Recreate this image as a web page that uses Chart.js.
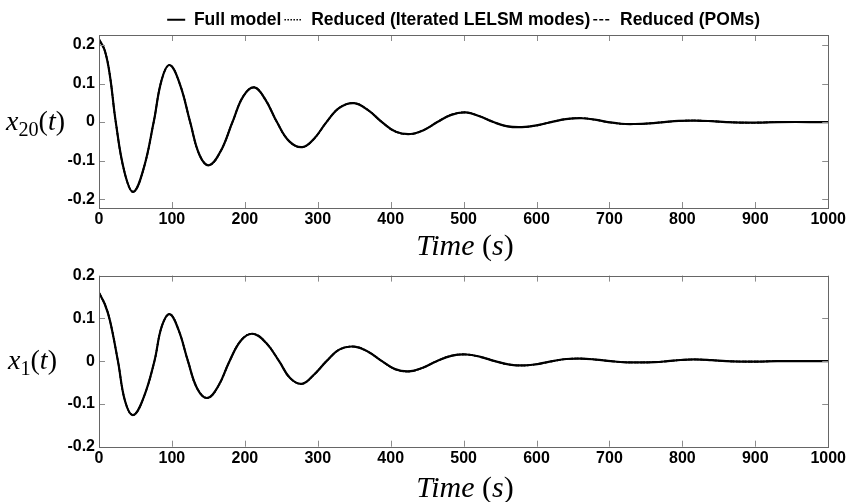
<!DOCTYPE html>
<html>
<head>
<meta charset="utf-8">
<script src="https://cdn.jsdelivr.net/npm/chart.js@4.4.1/dist/chart.umd.min.js"></script>
<style>
  body { margin: 0; background: #fff; }
  #wrap { position: relative; width: 848px; height: 502px; overflow: hidden; background: #fff; }
  .panel { position: absolute; left: 0; width: 848px; }
  .lab { position: absolute; font-family: "Liberation Serif", "Times New Roman", serif; font-size: 28px; color: #000; white-space: nowrap; line-height: 1; }
  .lab sub { font-size: 0.72em; font-style: normal; vertical-align: -0.3em; }
  .xlab { font-size: 30px; transform: translateX(-50%); }
</style>
</head>
<body>
<div id="wrap">
  <div class="panel" style="top:0;height:262px"><canvas id="topChart"></canvas></div>
  <div class="panel" style="top:262px;height:240px"><canvas id="bottomChart"></canvas></div>
  <div class="lab" style="left:6px;top:107px"><i>x</i><sub>20</sub>(<i>t</i>)</div>
  <div class="lab" style="left:8px;top:346px"><i>x</i><sub>1</sub>(<i>t</i>)</div>
  <div class="lab xlab" style="left:465px;top:230px"><i>Time</i> (<i>s</i>)</div>
  <div class="lab xlab" style="left:465px;top:472px"><i>Time</i> (<i>s</i>)</div>
</div>
<script>
// tick values
const xTicks = [0, 100, 200, 300, 400, 500, 600, 700, 800, 900, 1000];
const yTicksTop = [-0.2, -0.1, 0, 0.1, 0.2];
const yTicksBottom = [-0.2, -0.1, 0, 0.1, 0.2];

// x20(t) - top panel
const tTop = [0, 8, 15, 23, 35, 47, 61, 75, 86, 97, 111, 125, 138, 151, 167, 183, 198, 213, 228, 244,
  261, 279, 295, 312, 330, 350, 369, 388, 407, 427, 445, 464, 483, 503, 522, 541, 560, 580, 600, 620,
  640, 662, 680, 698, 716, 735, 755, 775, 795, 817, 840, 860, 880, 903, 930, 1000];
const x20Full = [0.215, 0.185, 0.12, 0, -0.13, -0.181, -0.122, 0, 0.110, 0.148, 0.098, 0, -0.086, -0.112, -0.075, 0, 0.0675, 0.09, 0.059, 0,
  -0.050, -0.065, -0.043, 0, 0.0375, 0.049, 0.031, 0, -0.025, -0.031, -0.021, 0, 0.0187, 0.025, 0.015, 0, -0.011, -0.013, -0.0087, 0,
  0.0076, 0.010, 0.0062, 0, -0.0044, -0.005, -0.0034, 0, 0.003, 0.004, 0.0024, 0, -0.0013, -0.0015, 0, 0];
// reduced models lie on top of the full model at this scale
const x20Lelsm = x20Full.slice();
const x20Pom = x20Full.slice();

// x1(t) - bottom panel
const tBottom = [0, 8, 15, 26, 36, 47, 61, 76, 86, 97, 109, 122, 135, 149, 164, 179, 195, 211, 229, 247,
  262, 278, 294, 312, 330, 350, 369, 388, 406, 425, 444, 463, 483, 504, 523, 543, 563, 584, 603, 622,
  641, 661, 681, 702, 722, 743, 762, 780, 798, 817, 840, 860, 880, 903, 930, 1000];
const x1Full = [0.160, 0.133, 0.095, 0, -0.095, -0.126, -0.086, 0, 0.081, 0.110, 0.0735, 0, -0.065, -0.086, -0.057, 0, 0.049, 0.064, 0.043, 0,
  -0.0395, -0.053, -0.033, 0, 0.0275, 0.034, 0.0222, 0, -0.0187, -0.024, -0.0155, 0, 0.0125, 0.0156, 0.010, 0, -0.008, -0.010, -0.0064, 0,
  0.005, 0.006, 0.0037, 0, -0.0027, -0.003, -0.0023, 0, 0.0027, 0.004, 0.0023, 0, -0.0009, -0.001, 0, 0];
const x1Lelsm = x1Full.slice();
const x1Pom = x1Full.slice();

const tickFont = { family: '"Liberation Sans", Arial, sans-serif', size: 16, weight: 'bold' };
const legendFont = { family: '"Liberation Sans", Arial, sans-serif', size: 17.5, weight: 'bold' };

// box round the plot with inward ticks, matlab style
const matlabBox = {
  id: 'matlabBox',
  afterDatasetsDraw(chart) {
    const { ctx, chartArea: a, scales: { x, y } } = chart;
    ctx.save();
    ctx.lineWidth = 1;
    ctx.strokeStyle = '#8c8c8c';
    ctx.beginPath();
    x.ticks.forEach(t => {
      const px = Math.round(x.getPixelForValue(t.value)) + 0.5;
      ctx.moveTo(px, a.top); ctx.lineTo(px, a.top + 6);
      ctx.moveTo(px, a.bottom); ctx.lineTo(px, a.bottom - 6);
    });
    y.ticks.forEach(t => {
      const py = Math.round(y.getPixelForValue(t.value)) + 0.5;
      ctx.moveTo(a.left, py); ctx.lineTo(a.left + 6, py);
      ctx.moveTo(a.right, py); ctx.lineTo(a.right - 6, py);
    });
    ctx.stroke();
    ctx.strokeStyle = '#666';
    ctx.strokeRect(Math.round(a.left) + 0.5, Math.round(a.top) + 0.5, Math.round(a.right - a.left), Math.round(a.bottom - a.top));
    ctx.restore();
  }
};

// keep the legend strip short so the plot starts where it does in the figure
const legendHeight = {
  id: 'legendHeight',
  afterInit(chart) {
    const lg = chart.legend;
    if (!lg || !chart.options.plugins.legend.display) return;
    const fit = lg.fit.bind(lg);
    lg.fit = function () { fit(); this.height = 27; };
  }
};

function points(t, v) {
  return t.map((tt, i) => ({ x: tt, y: v[i] }));
}

function legendLabels(chart) {
  const items = Chart.defaults.plugins.legend.labels.generateLabels(chart);
  items.forEach(it => { it.lineDash = chart.data.datasets[it.datasetIndex].borderDash || []; });
  return items;
}

function makeChart(id, t, full, lelsm, pom, yMin, yMax, yTicks, padTop, xAxisH, showLegend) {
  return new Chart(document.getElementById(id), {
    type: 'line',
    data: {
      datasets: [{
        label: 'Full model',
        data: points(t, full),
        borderColor: '#000',
        borderWidth: 2.2
      }, {
        label: 'Reduced (Iterated LELSM modes)',
        data: points(t, lelsm),
        borderColor: '#000',
        borderWidth: 1.6,
        borderDash: [1.5, 1.5]
      }, {
        label: 'Reduced (POMs)',
        data: points(t, pom),
        borderColor: '#000',
        borderWidth: 1.6,
        borderDash: [4, 2]
      }]
    },
    options: {
      responsive: true,
      maintainAspectRatio: false,
      animation: false,
      elements: { point: { radius: 0 }, line: { tension: 0.4 } },
      layout: { padding: { top: padTop, left: 0, right: 0, bottom: 0 } },
      plugins: {
        legend: {
          display: showLegend,
          fullSize: false,
          labels: {
            color: '#000',
            font: legendFont,
            usePointStyle: true,
            pointStyle: 'line',
            pointStyleWidth: 18,
            padding: 3,
            generateLabels: legendLabels
          }
        },
        tooltip: { enabled: false }
      },
      scales: {
        x: {
          type: 'linear',
          min: 0,
          max: 1000,
          afterBuildTicks: s => { s.ticks = xTicks.map(v => ({ value: v })); },
          afterFit: s => { s.height = xAxisH; },
          ticks: { color: '#000', font: tickFont, padding: 2, maxRotation: 0, autoSkip: false, callback: v => String(v) },
          grid: { display: false, drawTicks: false },
          border: { display: false }
        },
        y: {
          min: yMin,
          max: yMax,
          afterBuildTicks: s => { s.ticks = yTicks.map(v => ({ value: v })); },
          afterFit: s => { s.width = 99; },
          ticks: { color: '#000', font: tickFont, padding: 4, callback: v => String(v) },
          grid: { display: false, drawTicks: false },
          border: { display: false }
        }
      }
    },
    plugins: [matlabBox, legendHeight]
  });
}

makeChart('topChart', tTop, x20Full, x20Lelsm, x20Pom, -0.223, 0.226, yTicksTop, 8, 54, true);
makeChart('bottomChart', tBottom, x1Full, x1Lelsm, x1Pom, -0.2, 0.2, yTicksBottom, 13, 55.3, false);
</script>
</body>
</html>
